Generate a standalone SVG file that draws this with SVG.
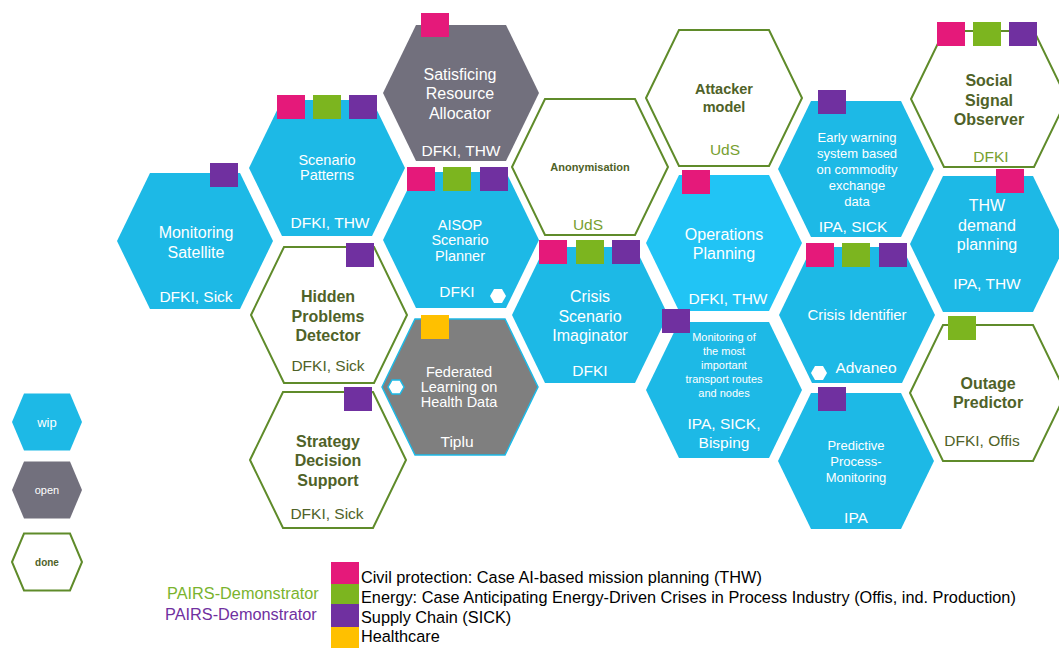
<svg xmlns="http://www.w3.org/2000/svg" xmlns:xlink="http://www.w3.org/1999/xlink" width="1059" height="648" viewBox="0 0 1059 648">
<style>
text{font-family:"Liberation Sans",Arial,sans-serif;text-anchor:middle}
.wip{fill:#1DB9E6}
.wip2{fill:#21C4F5}
.open{fill:#72707D}
.grey{fill:#7F7F7F;stroke:#1DB9E6;stroke-width:1.5}
.done{fill:#fff;stroke:#5F8B2A;stroke-width:2}
.mini{fill:#fff}
.mini2{fill:#fff;stroke:#1DB9E6;stroke-width:1.5}
.pk{fill:#E5197A}
.gn{fill:#7CB51F}
.pu{fill:#7030A0}
.ye{fill:#FFC000}
.tw{fill:#fff}
.td{fill:#4F6228;font-weight:bold}
.tg{fill:#4F6228}
.tl{fill:#77A030}
.s16{font-size:16px}
.s15{font-size:15.5px}
.s14{font-size:14.5px}
.s13{font-size:13px}
.s11{font-size:11px}
.leg{font-size:16.3px;text-anchor:start;fill:#000}
</style>
<defs>
<polygon id="hex" points="-78,0 -45,-68 45,-68 78,0 45,68 -45,68"/>
<polygon id="mhex" points="-8,0 -4,-7 4,-7 8,0 4,7 -4,7"/>
<polygon id="lhex" points="-35,0 -23,-28.5 23,-28.5 35,0 23,28.5 -23,28.5"/>
<rect id="sq" width="28" height="24"/>
</defs>
<rect width="1059" height="648" fill="#fff"/>

<g id="monitoring-satellite">
<use xlink:href="#hex" x="195" y="241" class="wip"/>
<use xlink:href="#sq" x="210" y="163" class="pu"/>
<text class="tw s16" x="196" y="238">Monitoring</text>
<text class="tw s16" x="196" y="258">Satellite</text>
<text class="tw s15" x="196" y="302">DFKI, Sick</text>
</g>

<g id="scenario-patterns">
<use xlink:href="#hex" x="327" y="168" class="wip"/>
<use xlink:href="#sq" x="277" y="95" class="pk"/>
<use xlink:href="#sq" x="313" y="95" class="gn"/>
<use xlink:href="#sq" x="349" y="95" class="pu"/>
<text class="tw s14" x="327" y="165">Scenario</text>
<text class="tw s14" x="327" y="180">Patterns</text>
<text class="tw s15" x="330" y="228">DFKI, THW</text>
</g>

<g id="satisficing-resource-allocator">
<use xlink:href="#hex" x="461" y="93" class="open"/>
<use xlink:href="#sq" x="421" y="13" class="pk"/>
<text class="tw s16" x="460" y="80">Satisficing</text>
<text class="tw s16" x="460" y="99">Resource</text>
<text class="tw s16" x="460" y="119">Allocator</text>
<text class="tw s15" x="461" y="156">DFKI, THW</text>
</g>

<g id="aisop-scenario-planner">
<use xlink:href="#hex" x="461" y="240" class="wip"/>
<use xlink:href="#sq" x="407" y="167" class="pk"/>
<use xlink:href="#sq" x="443" y="167" class="gn"/>
<use xlink:href="#sq" x="480" y="167" class="pu"/>
<use xlink:href="#mhex" x="498" y="296" class="mini"/>
<text class="tw s14" x="460" y="230">AISOP</text>
<text class="tw s14" x="460" y="245">Scenario</text>
<text class="tw s14" x="460" y="261">Planner</text>
<text class="tw s15" x="457" y="297">DFKI</text>
</g>

<g id="hidden-problems-detector">
<use xlink:href="#hex" x="329" y="315" class="done"/>
<use xlink:href="#sq" x="346" y="243" class="pu"/>
<text class="td s16" x="328" y="302">Hidden</text>
<text class="td s16" x="328" y="322">Problems</text>
<text class="td s16" x="328" y="341">Detector</text>
<text class="tg s15" x="328" y="371">DFKI, Sick</text>
</g>

<g id="strategy-decision-support">
<use xlink:href="#hex" x="328" y="460" class="done"/>
<use xlink:href="#sq" x="344" y="387" class="pu"/>
<text class="td s16" x="328" y="447">Strategy</text>
<text class="td s16" x="328" y="466">Decision</text>
<text class="td s16" x="328" y="486">Support</text>
<text class="tg s15" x="327" y="519">DFKI, Sick</text>
</g>

<g id="federated-learning">
<use xlink:href="#hex" x="460" y="387" class="grey"/>
<use xlink:href="#sq" x="421" y="315" class="ye"/>
<use xlink:href="#mhex" x="396" y="387" class="mini2"/>
<text class="tw s14" x="459" y="377">Federated</text>
<text class="tw s14" x="459" y="392">Learning on</text>
<text class="tw s14" x="459" y="407">Health Data</text>
<text class="tw s15" x="457" y="447">Tiplu</text>
</g>

<g id="anonymisation">
<use xlink:href="#hex" x="590" y="167" class="done"/>
<text class="td s11" x="590" y="171">Anonymisation</text>
<text class="tl s15" x="588" y="230">UdS</text>
</g>

<g id="crisis-scenario-imaginator">
<use xlink:href="#hex" x="590" y="315" class="wip"/>
<use xlink:href="#sq" x="539" y="240" class="pk"/>
<use xlink:href="#sq" x="576" y="240" class="gn"/>
<use xlink:href="#sq" x="612" y="240" class="pu"/>
<text class="tw s16" x="590" y="302">Crisis</text>
<text class="tw s16" x="590" y="322">Scenario</text>
<text class="tw s16" x="590" y="341">Imaginator</text>
<text class="tw s15" x="590" y="376">DFKI</text>
</g>

<g id="attacker-model">
<use xlink:href="#hex" x="724" y="98" class="done"/>
<text class="td s14" x="724" y="94">Attacker</text>
<text class="td s14" x="724" y="112">model</text>
<text class="tl s15" x="725" y="155">UdS</text>
</g>

<g id="operations-planning">
<use xlink:href="#hex" x="724" y="243" class="wip2"/>
<use xlink:href="#sq" x="682" y="170" class="pk"/>
<text class="tw s16" x="724" y="240">Operations</text>
<text class="tw s16" x="724" y="259">Planning</text>
<text class="tw s15" x="728" y="304">DFKI, THW</text>
</g>

<g id="monitoring-transport-routes">
<use xlink:href="#hex" x="724" y="390" class="wip"/>
<use xlink:href="#sq" x="662" y="309" class="pu"/>
<text class="tw s11" x="724" y="341">Monitoring of</text>
<text class="tw s11" x="724" y="355">the most</text>
<text class="tw s11" x="724" y="369">important</text>
<text class="tw s11" x="724" y="383">transport routes</text>
<text class="tw s11" x="724" y="397">and nodes</text>
<text class="tw s15" x="724" y="429">IPA, SICK,</text>
<text class="tw s15" x="724" y="448">Bisping</text>
</g>

<g id="early-warning-system">
<use xlink:href="#hex" x="856" y="169" class="wip"/>
<use xlink:href="#sq" x="818" y="90" class="pu"/>
<text class="tw s13" x="857" y="142">Early warning</text>
<text class="tw s13" x="857" y="158">system based</text>
<text class="tw s13" x="857" y="174">on commodity</text>
<text class="tw s13" x="857" y="190">exchange</text>
<text class="tw s13" x="857" y="206">data</text>
<text class="tw s15" x="853" y="232">IPA, SICK</text>
</g>

<g id="crisis-identifier">
<use xlink:href="#hex" x="857" y="315" class="wip"/>
<use xlink:href="#sq" x="806" y="243" class="pk"/>
<use xlink:href="#sq" x="842" y="243" class="gn"/>
<use xlink:href="#sq" x="879" y="243" class="pu"/>
<use xlink:href="#mhex" x="819" y="373" class="mini"/>
<text class="tw" font-size="15" x="857" y="320">Crisis Identifier</text>
<text class="tw s15" x="866" y="373">Advaneo</text>
</g>

<g id="predictive-process-monitoring">
<use xlink:href="#hex" x="856" y="461" class="wip"/>
<use xlink:href="#sq" x="818" y="387" class="pu"/>
<text class="tw s13" x="856" y="450">Predictive</text>
<text class="tw s13" x="856" y="466">Process-</text>
<text class="tw s13" x="856" y="482">Monitoring</text>
<text class="tw s15" x="856" y="523">IPA</text>
</g>

<g id="social-signal-observer">
<use xlink:href="#hex" x="989" y="99" class="done"/>
<use xlink:href="#sq" x="937" y="22" class="pk"/>
<use xlink:href="#sq" x="973" y="22" class="gn"/>
<use xlink:href="#sq" x="1009" y="22" class="pu"/>
<text class="td s16" x="989" y="86">Social</text>
<text class="td s16" x="989" y="106">Signal</text>
<text class="td s16" x="989" y="125">Observer</text>
<text class="tl s15" x="991" y="162">DFKI</text>
</g>

<g id="thw-demand-planning">
<use xlink:href="#hex" x="988" y="244" class="wip"/>
<use xlink:href="#sq" x="996" y="169" class="pk"/>
<text class="tw s16" x="987" y="211">THW</text>
<text class="tw s16" x="987" y="231">demand</text>
<text class="tw s16" x="987" y="250">planning</text>
<text class="tw s15" x="987" y="289">IPA, THW</text>
</g>

<g id="outage-predictor">
<use xlink:href="#hex" x="988" y="393" class="done"/>
<use xlink:href="#sq" x="948" y="316" class="gn"/>
<text class="td s16" x="988" y="389">Outage</text>
<text class="td s16" x="988" y="408">Predictor</text>
<text class="tg s15" x="982" y="446">DFKI, Offis</text>
</g>

<g id="legend-status">
<use xlink:href="#lhex" x="47" y="422" class="wip"/>
<text class="tw" x="47" y="427" font-size="13">wip</text>
<use xlink:href="#lhex" x="47" y="490" class="open"/>
<text class="tw" x="47" y="494" font-size="11">open</text>
<use xlink:href="#lhex" x="47" y="562" class="done"/>
<text class="td" x="47" y="566" font-size="10">done</text>
</g>

<g id="legend-cases">
<text x="167" y="599" font-size="16.3" style="text-anchor:start;fill:#7AB32E">PAIRS-Demonstrator</text>
<text x="165" y="620" font-size="16.3" style="text-anchor:start;fill:#7030A0">PAIRS-Demonstrator</text>
<rect x="331" y="562" width="28" height="22" class="pk"/>
<rect x="331" y="584" width="28" height="20" class="gn"/>
<rect x="331" y="604" width="28" height="23" class="pu"/>
<rect x="331" y="627" width="28" height="21" class="ye"/>
<text class="leg" x="361" y="583">Civil protection: Case AI-based mission planning (THW)</text>
<text class="leg" x="361" y="603">Energy: Case Anticipating Energy-Driven Crises in Process Industry (Offis, ind. Production)</text>
<text class="leg" x="361" y="623">Supply Chain (SICK)</text>
<text class="leg" x="361" y="642">Healthcare</text>
</g>
</svg>
